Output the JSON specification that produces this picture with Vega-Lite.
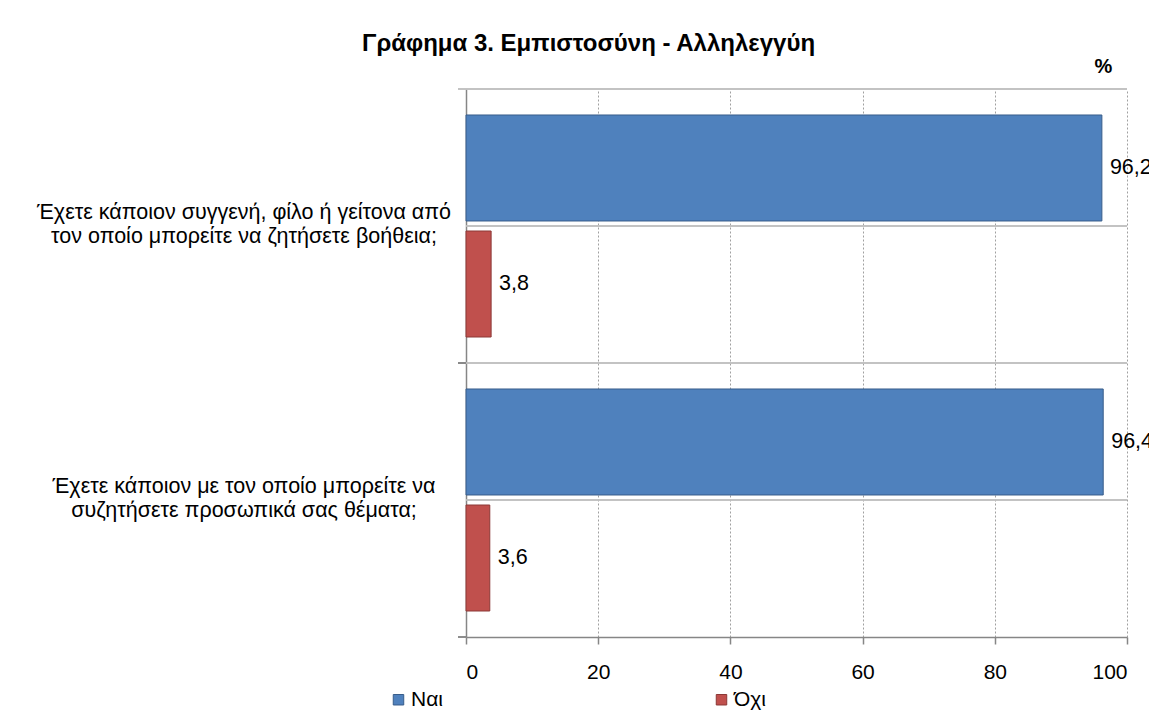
{
  "$schema": "https://vega.github.io/schema/vega-lite/v6.json",
  "width": 661,
  "height": 548,
  "autosize": {"type": "none"},
  "padding": {"left": 466, "top": 89, "right": 22, "bottom": 76},
  "background": "white",
  "config": {
    "font": "Liberation Sans",
    "view": {"stroke": null}
  },
  "title": {
    "text": "Γράφημα 3. Εμπιστοσύνη - Αλληλεγγύη",
    "anchor": "middle",
    "frame": "group",
    "dx": -208,
    "offset": 0,
    "fontSize": 24,
    "fontWeight": "bold",
    "color": "black"
  },
  "data": {
    "values": [
      {"question": "Έχετε κάποιον συγγενή, φίλο ή γείτονα από\nτον οποίο μπορείτε να ζητήσετε βοήθεια;", "answer": "Ναι", "value": 96.2},
      {"question": "Έχετε κάποιον συγγενή, φίλο ή γείτονα από\nτον οποίο μπορείτε να ζητήσετε βοήθεια;", "answer": "Όχι", "value": 3.8},
      {"question": "Έχετε κάποιον με τον οποίο μπορείτε να\nσυζητήσετε προσωπικά σας θέματα;", "answer": "Ναι", "value": 96.4},
      {"question": "Έχετε κάποιον με τον οποίο μπορείτε να\nσυζητήσετε προσωπικά σας θέματα;", "answer": "Όχι", "value": 3.6}
    ]
  },
  "transform": [
    {"calculate": "replace(format(datum.value, '.1f'), '.', ',')", "as": "label"}
  ],
  "layer": [
    {
      "mark": {"type": "rule", "color": "#bfbfbf", "strokeWidth": 1.5},
      "encoding": {
        "y": {"field": "question", "type": "nominal", "sort": null},
        "x": {"datum": 0},
        "x2": {"datum": 100}
      }
    },
    {
      "mark": {"type": "rule", "color": "#bfbfbf", "strokeWidth": 1.5},
      "encoding": {
        "y": {"field": "question", "type": "nominal", "sort": null, "bandPosition": 0},
        "x": {"datum": -1.21},
        "x2": {"datum": 100}
      }
    },
    {
      "mark": {"type": "rule", "color": "#868686", "strokeWidth": 1.5},
      "encoding": {
        "y": {"field": "question", "type": "nominal", "sort": null, "bandPosition": 1},
        "x": {"datum": -1.21},
        "x2": {"datum": 0}
      }
    },
    {
      "mark": {"type": "bar", "strokeWidth": 1},
      "encoding": {
        "y": {
          "field": "question", "type": "nominal", "sort": null,
          "scale": {"paddingInner": 0, "paddingOuter": 0},
          "axis": {
            "title": null, "labels": false, "ticks": false, "grid": false,
            "domainColor": "#868686", "domainWidth": 1.5
          }
        },
        "yOffset": {
          "field": "answer", "type": "nominal", "sort": ["Ναι", "Όχι"],
          "scale": {"paddingInner": 0.0862, "paddingOuter": 0.224}
        },
        "x": {
          "field": "value", "type": "quantitative",
          "scale": {"domain": [0, 100], "nice": false},
          "axis": {
            "title": "%", "titleX": 637, "titleY": -565, "titleAlign": "center", "titleBaseline": "alphabetic",
            "titleFontSize": 20, "titleFontWeight": "bold", "titleColor": "black",
            "values": [0, 20, 40, 60, 80, 100],
            "grid": true, "gridColor": "#a0a0a0", "gridDash": [2, 2], "gridWidth": 1,
            "domainColor": "#868686", "domainWidth": 1.5,
            "tickColor": "#868686", "tickSize": 7, "tickWidth": 1.5,
            "labelFontSize": 21, "labelColor": "black", "labelPadding": 17, "format": "d"
          }
        },
        "color": {
          "field": "answer", "type": "nominal", "sort": ["Ναι", "Όχι"],
          "scale": {"domain": ["Ναι", "Όχι"], "range": ["#4F81BD", "#C0504D"]},
          "legend": {
            "title": null, "orient": "none", "direction": "horizontal",
            "legendX": -78, "legendY": 600,
            "symbolType": "square", "symbolSize": 110, "symbolStrokeWidth": 1, "symbolStrokeColor": "#6a6a6a",
            "labelFontSize": 21, "labelColor": "black", "labelOffset": 2,
            "columnPadding": 268
          }
        },
        "stroke": {
          "field": "answer", "type": "nominal", "sort": ["Ναι", "Όχι"],
          "scale": {"domain": ["Ναι", "Όχι"], "range": ["#385D8A", "#8C3836"]},
          "legend": null
        }
      }
    },
    {
      "mark": {"type": "text", "align": "left", "baseline": "middle", "dx": 8, "fontSize": 21.5, "color": "black"},
      "encoding": {
        "y": {"field": "question", "type": "nominal", "sort": null},
        "yOffset": {"field": "answer", "type": "nominal", "sort": ["Ναι", "Όχι"]},
        "x": {"field": "value", "type": "quantitative"},
        "text": {"field": "label", "type": "nominal"}
      }
    },
    {
      "transform": [{"filter": "datum.answer == 'Ναι'"}],
      "mark": {"type": "text", "align": "center", "baseline": "middle", "dx": -222, "dy": -13, "fontSize": 21.5, "lineHeight": 24, "lineBreak": "\n", "color": "black"},
      "encoding": {
        "y": {"field": "question", "type": "nominal", "sort": null},
        "x": {"datum": 0},
        "text": {"field": "question", "type": "nominal"}
      }
    }
  ]
}
